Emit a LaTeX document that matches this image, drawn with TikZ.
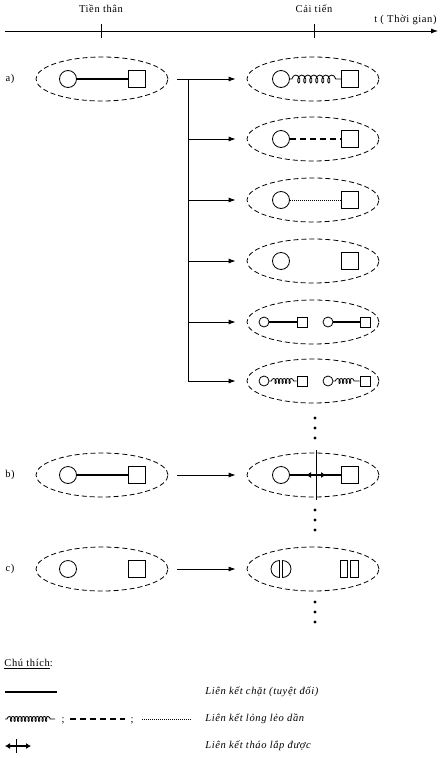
\documentclass[tikz,border=0pt]{standalone}
\usepackage{fontspec}
\setmainfont[LetterSpace=6]{Liberation Serif}
\usetikzlibrary{arrows.meta,shapes.geometric,decorations.pathmorphing}

\tikzset{
	blob/.style={draw, ellipse, line width=0.8pt, dash pattern=on 5pt off 3pt, minimum width=132pt, minimum height=44pt, inner sep=0pt},
	ball/.style={draw, circle, minimum size=17pt, inner sep=0pt},
	box/.style={draw, minimum size=17pt, inner sep=0pt},
	sball/.style={draw, circle, minimum size=10pt, inner sep=0pt},
	sbox/.style={draw, minimum size=10pt, inner sep=0pt},
	tight/.style={line width=1.6pt},
	loose/.style={line width=1.6pt, dash pattern=on 6pt off 4pt},
	faint/.style={line width=0.6pt, dash pattern=on 1pt off 1pt},
	spring/.style={decorate, decoration={coil, aspect=0.6, segment length=6pt, amplitude=4pt, pre length=2pt, post length=2pt}},
	sspring/.style={decorate, decoration={coil, aspect=0.6, segment length=3.5pt, amplitude=2.5pt, pre length=2pt, post length=2pt}},
	arr/.style={-{Latex[length=7pt,width=5pt]}},
	tip/.style={line width=1.2pt, -{Latex[length=5pt,width=6pt]}},
	lbl/.style={font=\fontsize{10.5}{12}\selectfont, inner sep=0pt},
	key/.style={font=\fontsize{10.5}{12}\selectfont\itshape, inner sep=0pt, anchor=west},
}

\begin{document}
\begin{tikzpicture}[x=1pt, y=-1pt, line width=0.8pt]
\useasboundingbox (0,0) rectangle (443,758);

	%time axis
	\coordinate (t0) at (5,31);
	\coordinate (t1) at (438,31);
	\draw[arr] (t0) -- (t1);
	\draw (101,24) -- (101,38); \draw (314,24) -- (314,38);
	\node[lbl] (pre) at (101,9) {Tiền thân};
	\node[lbl] (imp) at (314,9) {Cải tiến};
	\node[lbl, anchor=east] (time) at (437,20) {t ( Thời gian)};

	%row labels
	\node[lbl] (la) at (10,79) {a)};
	\node[lbl] (lb) at (10,475) {b)};
	\node[lbl] (lc) at (10,569) {c)};

	%a) predecessor
	\node[blob] (a0) at (102,79) {};
	\node[ball] (a0c) at (68,79) {}; \node[box] (a0s) at (137,79) {};
	\draw[tight] (a0c) -- (a0s);

	%a) improvements
	\foreach \i/\y in {1/79, 2/139, 3/200, 4/261, 5/322, 6/381}
		\node[blob] (r\i) at (313,\y) {};
	\node[ball] (r1c) at (281,79) {}; \node[box] (r1s) at (350,79) {};
	\draw[spring] (r1c) -- (r1s);
	\node[ball] (r2c) at (281,139) {}; \node[box] (r2s) at (350,139) {};
	\draw[loose] (r2c) -- (r2s);
	\node[ball] (r3c) at (281,200) {}; \node[box] (r3s) at (350,200) {};
	\draw[faint] (r3c) -- (r3s);
	\node[ball] (r4c) at (281,261) {}; \node[box] (r4s) at (350,261) {};
	\node[sball] (r5c) at (264,322) {}; \node[sbox] (r5s) at (302,322) {};
	\node[sball] (r5d) at (328,322) {}; \node[sbox] (r5t) at (365,322) {};
	\draw[tight] (r5c) -- (r5s); \draw[tight] (r5d) -- (r5t);
	\node[sball] (r6c) at (264,381) {}; \node[sbox] (r6s) at (302,381) {};
	\node[sball] (r6d) at (328,381) {}; \node[sbox] (r6t) at (365,381) {};
	\draw[sspring] (r6c) -- (r6s); \draw[sspring] (r6d) -- (r6t);

	%fork
	\coordinate (fork) at (188,79);
	\draw ([xshift=9pt]a0.east) -- (fork) -- (fork |- r6);
	\foreach \i in {1,...,6}
		\draw[arr] (fork |- r\i) -- ([xshift=-11pt]r\i.west);

	%b)
	\node[blob] (b0) at (102,475) {};
	\node[ball] (b0c) at (68,475) {}; \node[box] (b0s) at (137,475) {};
	\draw[tight] (b0c) -- (b0s);
	\node[blob] (b1) at (313,475) {};
	\node[ball] (b1c) at (281,475) {}; \node[box] (b1s) at (350,475) {};
	\draw[tight] (b1c) -- (b1s);
	\coordinate (bx) at (316,475);
	\draw[tip] (bx) -- (306,475); \draw[tip] (bx) -- (326,475);
	\draw (316,450) -- (316,500);
	\draw[arr] ([xshift=9pt]b0.east) -- ([xshift=-11pt]b1.west);

	%c)
	\node[blob] (c0) at (102,569) {};
	\node[ball] (c0c) at (68,569) {}; \node[box] (c0s) at (137,569) {};
	\node[blob] (c1) at (313,569) {};
	\draw (279.5,560.5) arc[start angle=270, end angle=90, radius=8.5] -- cycle;
	\draw (282.5,560.5) arc[start angle=270, end angle=450, radius=8.5] -- cycle;
	\draw (340.5,560.5) rectangle (347.5,577.5);
	\draw (350.5,560.5) rectangle (358.5,577.5);
	\draw[arr] ([xshift=9pt]c0.east) -- ([xshift=-11pt]c1.west);

	%continuation dots
	\foreach \y in {418,428,438,510,520,530,602,612,622}
		\fill (315,\y) circle (1.6pt);

	%legend
	\node[lbl, anchor=west] (note) at (4,664) {\underline{Chú thích}:};
	\coordinate (k1a) at (5,692); \coordinate (k1b) at (57,692);
	\draw[tight] (k1a) -- (k1b);
	\node[key] (k1) at (205,692) {Liên kết chặt (tuyệt đối)};
	\coordinate (k2a) at (5,719); \coordinate (k2b) at (55,719);
	\draw[sspring] (k2a) -- (k2b);
	\node[lbl] (s1) at (63,721) {;};
	\coordinate (k2c) at (70,719); \coordinate (k2d) at (125,719);
	\draw[loose] (k2c) -- (k2d);
	\node[lbl] (s2) at (132,721) {;};
	\coordinate (k2e) at (142,719); \coordinate (k2f) at (192,719);
	\draw[faint] (k2e) -- (k2f);
	\node[key] (k2) at (205,719) {Liên kết lỏng lẻo dần};
	\coordinate (k3) at (16,746);
	\draw[tip] (k3) -- (5,746); \draw[tip] (k3) -- (31,746);
	\draw (16,739) -- (16,753);
	\node[key] (k3t) at (205,746) {Liên kết tháo lắp được};
\end{tikzpicture}
\end{document}
